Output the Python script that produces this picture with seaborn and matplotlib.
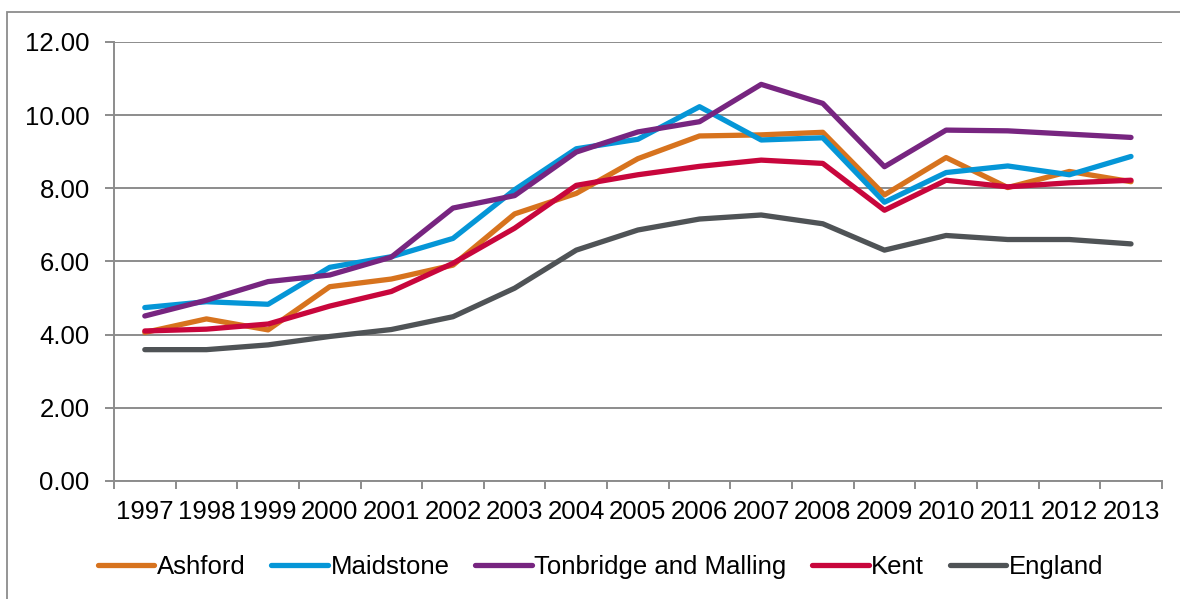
import numpy as np
import pandas as pd
import seaborn as sns
import matplotlib.pyplot as plt
from matplotlib.patches import Rectangle
from matplotlib.ticker import FixedLocator, FormatStrFormatter

years = [1997, 1998, 1999, 2000, 2001, 2002, 2003, 2004, 2005,
         2006, 2007, 2008, 2009, 2010, 2011, 2012, 2013]

ashford = [4.06, 4.43, 4.13, 5.31, 5.52, 5.90, 7.30, 7.86, 8.81,
           9.43, 9.46, 9.53, 7.82, 8.84, 8.02, 8.46, 8.18]
maidstone = [4.74, 4.90, 4.83, 5.84, 6.13, 6.63, 7.96, 9.08, 9.34,
             10.23, 9.32, 9.38, 7.62, 8.43, 8.61, 8.37, 8.87]
tonbridge = [4.51, 4.94, 5.45, 5.63, 6.12, 7.46, 7.80, 8.99, 9.54,
             9.82, 10.84, 10.32, 8.59, 9.59, 9.57, 9.48, 9.39]
kent = [4.10, 4.15, 4.29, 4.78, 5.18, 5.95, 6.91, 8.08, 8.37,
        8.60, 8.77, 8.68, 7.40, 8.22, 8.04, 8.15, 8.22]
england = [3.59, 3.59, 3.72, 3.95, 4.14, 4.49, 5.27, 6.31, 6.86,
           7.16, 7.27, 7.03, 6.31, 6.71, 6.60, 6.60, 6.48]

series_names = ["Ashford", "Maidstone", "Tonbridge and Malling", "Kent", "England"]
series_values = [ashford, maidstone, tonbridge, kent, england]
colors = ["#D7731E", "#0596D7", "#772580", "#C8063C", "#4F5356"]

rows = []
for name, vals in zip(series_names, series_values):
    for i, v in enumerate(vals):
        rows.append({"pos": i, "value": v, "series": name})
df = pd.DataFrame(rows)

sns.set_style("white")
plt.rcParams['font.family'] = ['Liberation Sans', 'DejaVu Sans']
plt.rcParams['text.color'] = 'black'
plt.rcParams['xtick.labelcolor'] = 'black'
plt.rcParams['ytick.labelcolor'] = 'black'

fs = 18.5

fig = plt.figure(figsize=(11.8, 5.99), dpi=100)
ax = fig.add_axes([0.0966, 0.197, 0.888, 0.733])

sns.lineplot(data=df, x="pos", y="value", hue="series", hue_order=series_names,
             palette=colors, linewidth=3.8, ax=ax, legend=True,
             solid_capstyle="round")

grid_col = "#8C8C8C"
ax.set_xlim(-0.5, len(years) - 0.5)
ax.set_ylim(0, 12)
ax.set_yticks(np.arange(0, 12.01, 2))
ax.yaxis.set_major_formatter(FormatStrFormatter("%.2f"))
ax.yaxis.grid(True, color=grid_col, linewidth=1.4)
ax.set_axisbelow(True)

ax.set_xticks(range(len(years)))
ax.set_xticklabels([str(y) for y in years])
ax.xaxis.set_minor_locator(FixedLocator(np.arange(-0.5, len(years), 1)))
ax.tick_params(axis="x", which="major", length=0, labelsize=fs, pad=14)
ax.tick_params(axis="x", which="minor", length=6, width=1.4, color=grid_col, direction="out")
ax.tick_params(axis="y", which="major", length=6.5, width=1.4, color=grid_col,
               direction="out", labelsize=fs, pad=11)
ax.xaxis.set_ticks_position("bottom")
ax.yaxis.set_ticks_position("left")

for s in ["top", "right"]:
    ax.spines[s].set_visible(False)
for s in ["left", "bottom"]:
    ax.spines[s].set_color(grid_col)
    ax.spines[s].set_linewidth(1.4)

ax.set_xlabel("")
ax.set_ylabel("")

handles, labels = ax.get_legend_handles_labels()
ax.legend_.remove()
fig.legend(handles, labels, loc="center", bbox_to_anchor=(0.509, 0.053),
           ncol=5, frameon=False, fontsize=fs, handlelength=2.2,
           handletextpad=0.1, columnspacing=1.0)

# outer chart border
fig.patches.append(Rectangle((7 / 1180, -0.1), 1.2, 1.1 - 12 / 599,
                             transform=fig.transFigure, fill=False,
                             edgecolor=grid_col, linewidth=1.3))

fig.savefig("out.png", dpi=100)
